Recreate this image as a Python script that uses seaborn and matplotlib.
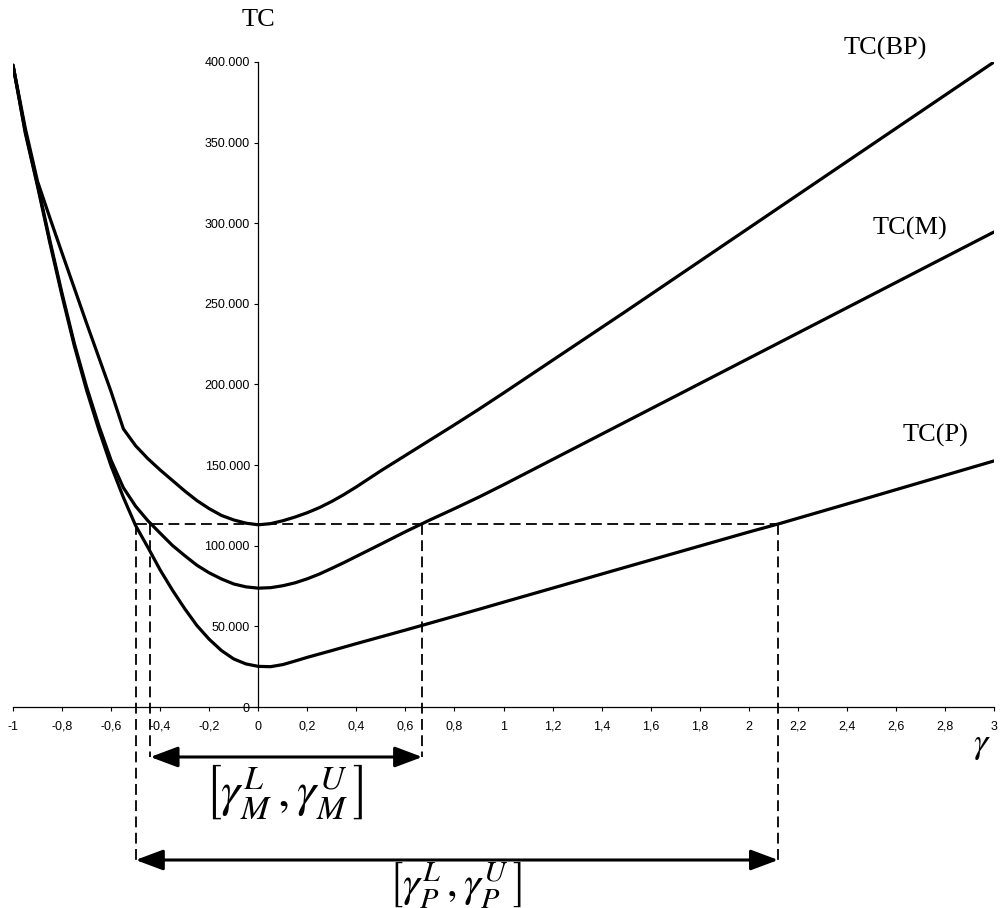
import numpy as np
import pandas as pd
import matplotlib
matplotlib.use("Agg")
import matplotlib.pyplot as plt
import matplotlib.transforms as mtransforms
import seaborn as sns

# ---------------- data ----------------
gamma_bp = [-1.0, -0.95, -0.9, -0.85, -0.8, -0.7, -0.6, -0.55, -0.5, -0.45, -0.4, -0.35, -0.3,
            -0.25, -0.2, -0.15, -0.1, -0.05, 0.0, 0.05, 0.1, 0.15, 0.2, 0.25, 0.3, 0.35, 0.4,
            0.5, 0.6, 0.7, 0.8, 0.9, 1.0, 1.5, 2.0, 2.5, 3.0]
tc_bp = [398000, 359000, 326000, 303500, 281500, 238000, 195500, 172500, 162000, 154000,
         147000, 140500, 134000, 128000, 123000, 118800, 116000, 114000, 113000, 113700,
         115500, 117800, 120500, 123700, 127500, 131800, 136500, 146500, 156000, 165500,
         175000, 184700, 194700, 245500, 297000, 348500, 400000]

gamma_m = [-1.0, -0.95, -0.9, -0.85, -0.8, -0.75, -0.7, -0.65, -0.6, -0.55, -0.5, -0.45, -0.4,
           -0.35, -0.3, -0.25, -0.2, -0.15, -0.1, -0.05, 0.0, 0.05, 0.1, 0.15, 0.2, 0.25, 0.3,
           0.35, 0.4, 0.5, 0.6, 0.7, 0.8, 0.9, 1.0, 1.5, 2.0, 2.5, 3.0]
tc_m = [398000, 357000, 324000, 289500, 256500, 225500, 198500, 174500, 153000, 136000,
        124500, 115500, 107800, 100200, 93900, 87900, 83200, 79400, 76300, 74500, 73700,
        74000, 75200, 77000, 79500, 82500, 86000, 89600, 93400, 101000, 108700, 116000,
        123000, 130200, 137800, 177000, 216200, 255400, 294600]

gamma_p = [-1.0, -0.95, -0.9, -0.85, -0.8, -0.75, -0.7, -0.65, -0.6, -0.55, -0.5, -0.45, -0.4,
           -0.35, -0.3, -0.25, -0.2, -0.15, -0.1, -0.05, 0.0, 0.05, 0.1, 0.15, 0.2, 0.3, 0.4,
           0.5, 0.6, 0.7, 0.8, 0.9, 1.0, 1.5, 2.0, 2.12, 2.5, 3.0]
tc_p = [398000, 356000, 323000, 288000, 255000, 224000, 196500, 172000, 149500, 130000,
        112500, 99000, 85000, 72500, 61000, 50500, 42000, 35000, 29800, 26700, 25200, 25000,
        26300, 28500, 30800, 35000, 39300, 43500, 47700, 52000, 56300, 60600, 65000, 86800,
        108500, 113500, 130300, 152600]

series_names = ["TC(BP)", "TC(M)", "TC(P)"]

threshold = 113500
interval_m = [-0.44, 0.669]
interval_p = [-0.5, 2.12]

xticks = [-1, -0.8, -0.6, -0.4, -0.2, 0, 0.2, 0.4, 0.6, 0.8, 1, 1.2, 1.4, 1.6, 1.8, 2,
          2.2, 2.4, 2.6, 2.8, 3]
xtick_labels = ["-1", "-0,8", "-0,6", "-0,4", "-0,2", "0", "0,2", "0,4", "0,6", "0,8", "1",
                "1,2", "1,4", "1,6", "1,8", "2", "2,2", "2,4", "2,6", "2,8", "3"]
yticks = [0, 50000, 100000, 150000, 200000, 250000, 300000, 350000, 400000]
ytick_labels = ["0", "50.000", "100.000", "150.000", "200.000", "250.000", "300.000",
                "350.000", "400.000"]

df = pd.concat([
    pd.DataFrame({"gamma": gamma_bp, "TC": tc_bp, "series": series_names[0]}),
    pd.DataFrame({"gamma": gamma_m, "TC": tc_m, "series": series_names[1]}),
    pd.DataFrame({"gamma": gamma_p, "TC": tc_p, "series": series_names[2]}),
])

# ---------------- plot ----------------
sns.set_theme(style="white")
plt.rcParams["font.family"] = ["Liberation Sans", "DejaVu Sans"]
plt.rcParams["mathtext.fontset"] = "stix"
plt.rcParams["text.color"] = "black"
plt.rcParams["xtick.color"] = "black"
plt.rcParams["ytick.color"] = "black"

fig = plt.figure(figsize=(10.01, 9.08), dpi=100)
ax = fig.add_axes([13 / 1001, (908 - 707) / 908, (994 - 13) / 1001, (707 - 62) / 908])

sns.lineplot(data=df, x="gamma", y="TC", hue="series", units="series", estimator=None,
             palette=["black"] * 3, linewidth=2.3, legend=False, sort=False, ax=ax)
for ln in ax.lines:
    ln.set_solid_joinstyle("round")
    ln.set_solid_capstyle("round")

ax.set_xlim(-1, 3)
ax.set_ylim(0, 400000)
ax.set_xlabel("")
ax.set_ylabel("")

for s in ["top", "right"]:
    ax.spines[s].set_visible(False)
ax.spines["left"].set_position(("data", 0))
for s in ["left", "bottom"]:
    ax.spines[s].set_color("black")
    ax.spines[s].set_linewidth(0.9)

ax.set_xticks(xticks)
ax.set_xticklabels(xtick_labels, fontsize=9, color="black")
ax.set_yticks(yticks)
ax.set_yticklabels(ytick_labels, fontsize=9, color="black")
ax.tick_params(axis="x", direction="out", length=3, width=0.8, color="black", pad=7)
ax.tick_params(axis="y", direction="out", length=3, width=0.8, color="black", pad=3)
ax.tick_params(bottom=True, left=True)

# dashed guide lines
dash = dict(color="black", linewidth=1.3, linestyle=(0, (6, 3)))
ax.plot([interval_p[0], interval_p[1]], [threshold, threshold], **dash)
trans = mtransforms.blended_transform_factory(ax.transData, ax.transAxes)
thr_ax = threshold / 400000
y_arrow_m = -0.0775
y_arrow_p = -0.2372
for xv in interval_m:
    ax.plot([xv, xv], [thr_ax, y_arrow_m], transform=trans, clip_on=False, **dash)
for xv in interval_p:
    ax.plot([xv, xv], [thr_ax, y_arrow_p], transform=trans, clip_on=False, **dash)

arrowprops = dict(arrowstyle="<|-|>,head_length=1.2,head_width=0.45", color="black",
                  linewidth=2.2, shrinkA=0, shrinkB=0, mutation_scale=14)
ax.annotate("", xy=(interval_m[1], y_arrow_m), xytext=(interval_m[0], y_arrow_m),
            xycoords=trans, textcoords=trans, arrowprops=arrowprops, annotation_clip=False)
ax.annotate("", xy=(interval_p[1], y_arrow_p), xytext=(interval_p[0], y_arrow_p),
            xycoords=trans, textcoords=trans, arrowprops=arrowprops, annotation_clip=False)

ax.text(np.mean(interval_m) - 0.01, -0.132, r"$\left[\gamma_M^L\,,\gamma_M^U\,\right]$",
        transform=trans, ha="center", va="center", fontsize=35, color="black")
ax.text(np.mean(interval_p) - 0.01, -0.2745, r"$\left[\gamma_P^L\,,\gamma_P^U\,\right]$",
        transform=trans, ha="center", va="center", fontsize=31, color="black")

serif = ["Liberation Serif", "DejaVu Serif"]
ax.text(0, 1.065, "TC", transform=trans, ha="center", va="center", fontsize=19,
        family=serif, color="black")
ax.text(2.95, -0.058, r"$\gamma$", transform=trans, ha="center", va="center", fontsize=26,
        color="black")
ax.text(2.557, 408700, series_names[0], ha="center", va="center", fontsize=19, family=serif,
        clip_on=False, color="black")
ax.text(2.658, 297000, series_names[1], ha="center", va="center", fontsize=19, family=serif,
        color="black")
ax.text(2.76, 168700, series_names[2], ha="center", va="center", fontsize=19, family=serif,
        color="black")

fig.savefig("out.png", dpi=100, facecolor="white")
